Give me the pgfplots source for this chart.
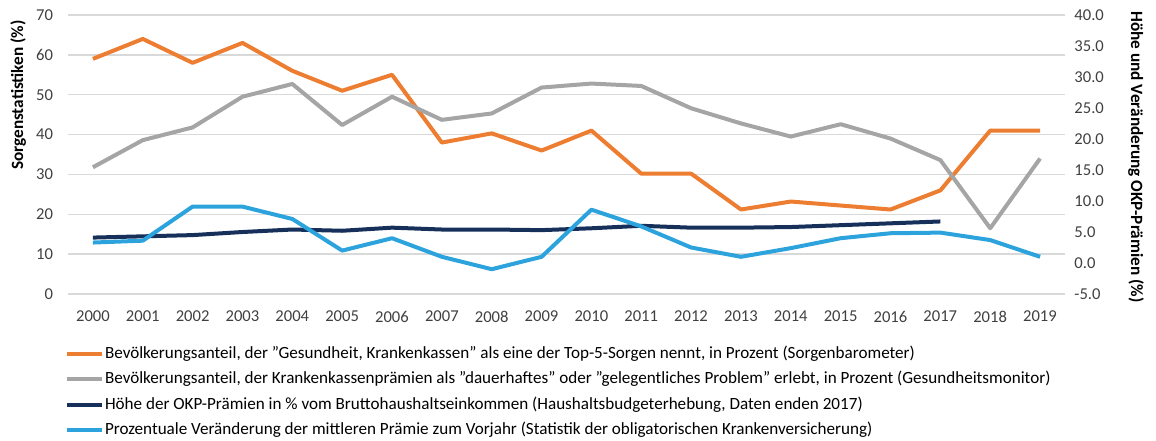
\documentclass[border=0pt]{standalone}
\usepackage{fontspec}
\setmainfont{Carlito}[Ligatures=ResetAll]
\usepackage{pgfplots}
\pgfplotsset{compat=1.18}

\definecolor{cOrange}{RGB}{237,125,49}
\definecolor{cGray}{RGB}{165,165,165}
\definecolor{cNavy}{RGB}{22,48,90}
\definecolor{cBlue}{RGB}{44,163,221}
\definecolor{cGrid}{RGB}{217,217,217}
\definecolor{cText}{RGB}{64,64,64}

\pgfplotsset{
  chartbase/.style={
    scale only axis, width=498.5pt, height=139.5pt,
    xmin=1999.5, xmax=2019.5,
    xtick={2000,...,2019},
    major tick length=0pt,
    axis line style={draw=none},
    tick label style={font=\fontsize{8.3}{10}\selectfont, text=cText},
    /pgf/number format/assume math mode=true,
    /pgf/number format/1000 sep={},
  },
  serie/.style={line width=2pt, line join=round, no markers},
}

\begin{document}
\begin{tikzpicture}
\useasboundingbox (-34pt,-73pt) rectangle (544pt,147pt);

% left axis: Sorgenstatistiken
\begin{axis}[
  chartbase,
  ymin=0, ymax=70, ytick={0,10,...,70},
  ymajorgrids, grid style={cGrid, line width=0.7pt},
  xticklabel style={yshift=-5pt},
  yticklabel style={xshift=-4pt},
  ylabel={Sorgenstatistiken (\%)},
  every axis y label/.style={at={(axis description cs:-0.05,0.713)}, rotate=90, anchor=center,
    font=\fontsize{8.6}{10}\selectfont\bfseries},
]
\addplot[serie, cOrange] coordinates {
  (2000,59)(2001,64)(2002,58)(2003,63)(2004,56)(2005,51)(2006,55)(2007,38)(2008,40.3)(2009,36)
  (2010,41)(2011,30.2)(2012,30.2)(2013,21.2)(2014,23.2)(2015,22.2)(2016,21.2)(2017,26)(2018,41)(2019,41)
};
\addplot[serie, cGray] coordinates {
  (2000,31.8)(2001,38.6)(2002,41.8)(2003,49.5)(2004,52.7)(2005,42.4)(2006,49.5)(2007,43.7)(2008,45.3)(2009,51.8)
  (2010,52.8)(2011,52.2)(2012,46.6)(2013,42.8)(2014,39.5)(2015,42.6)(2016,39)(2017,33.6)(2018,16.5)(2019,34)
};
\end{axis}

% right axis: OKP-Praemien
\begin{axis}[
  chartbase,
  axis y line*=right, hide x axis,
  ymin=-5, ymax=40, ytick={-5,0,...,40},
  yticklabel style={xshift=1.2pt, /pgf/number format/.cd, fixed, fixed zerofill, precision=1},
  ylabel={Höhe und Veränderung OKP-Prämien (\%)},
  every axis y label/.style={at={(axis description cs:1.0712,0.491)}, rotate=-90, anchor=center,
    font=\fontsize{8.6}{10}\selectfont\bfseries},
  legend style={at={(0,0)}, anchor=north west, xshift=-1.5pt, yshift=-25.5pt,
    draw=none, fill=none, inner sep=0pt, row sep=4.25pt, column sep=0pt,
    font=\fontsize{8.55}{10}\selectfont,
    nodes={inner xsep=0.3pt, inner ysep=0pt, text height=6.5pt, text depth=2pt}},
  legend cell align=left,
  legend image code/.code={\draw[#1] (0pt,0pt) -- (17.5pt,0pt);},
]
\addlegendimage{serie, cOrange}
\addlegendentry{Bevölkerungsanteil, der "Gesundheit, Krankenkassen" als eine der Top-5-Sorgen nennt, in Prozent (Sorgenbarometer)}
\addlegendimage{serie, cGray}
\addlegendentry{Bevölkerungsanteil, der Krankenkassenprämien als "dauerhaftes" oder "gelegentliches Problem" erlebt, in Prozent (Gesundheitsmonitor)}
\addplot[serie, cNavy] coordinates {
  (2000,4.1)(2001,4.3)(2002,4.5)(2003,5.0)(2004,5.4)(2005,5.2)(2006,5.7)(2007,5.4)(2008,5.4)(2009,5.3)
  (2010,5.6)(2011,6.0)(2012,5.7)(2013,5.7)(2014,5.8)(2015,6.1)(2016,6.4)(2017,6.7)
};
\addlegendentry{Höhe der OKP-Prämien in \% vom Bruttohaushaltseinkommen (Haushaltsbudgeterhebung, Daten enden 2017)}
\addplot[serie, cBlue] coordinates {
  (2000,3.3)(2001,3.6)(2002,9.1)(2003,9.1)(2004,7.1)(2005,2.0)(2006,4.0)(2007,1.0)(2008,-1.0)(2009,1.0)
  (2010,8.6)(2011,5.9)(2012,2.5)(2013,1.0)(2014,2.4)(2015,4.0)(2016,4.8)(2017,4.9)(2018,3.7)(2019,1.0)
};
\addlegendentry{Prozentuale Veränderung der mittleren Prämie zum Vorjahr (Statistik der obligatorischen Krankenversicherung)}
\end{axis}
\end{tikzpicture}
\end{document}
